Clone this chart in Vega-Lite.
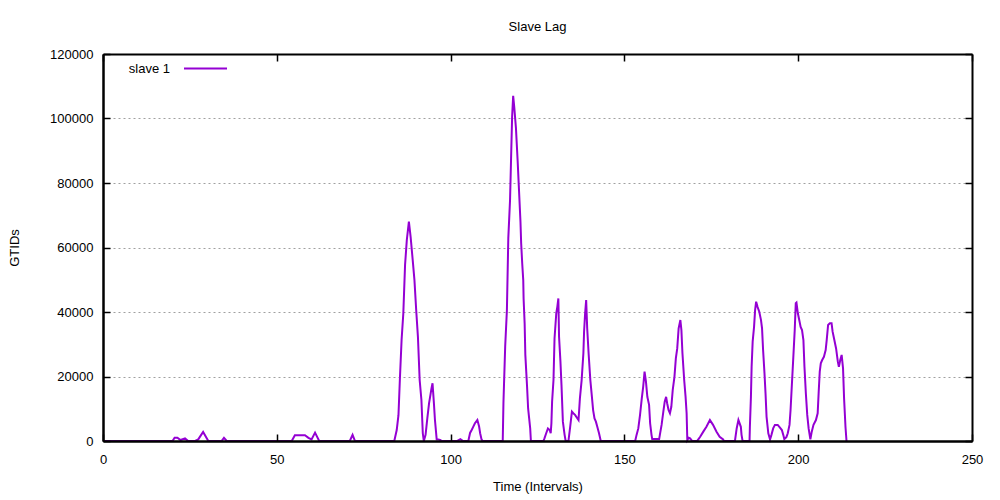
{
  "$schema": "https://vega.github.io/schema/vega-lite/v6.json",
  "width": 869,
  "height": 387,
  "autosize": "none",
  "padding": {"left": 103, "top": 54, "right": 28, "bottom": 59},
  "background": "white",
  "title": {
    "text": "Slave Lag",
    "font": "Liberation Sans",
    "fontSize": 13,
    "fontWeight": "normal",
    "color": "black",
    "offset": 12,
    "anchor": "middle"
  },
  "config": {
    "view": {"stroke": null}
  },
  "data": {
    "values": [
      {"interval": 0, "lag": 0, "series": "slave 1"},
      {"interval": 20, "lag": 0, "series": "slave 1"},
      {"interval": 20.6, "lag": 1000, "series": "slave 1"},
      {"interval": 21.4, "lag": 1000, "series": "slave 1"},
      {"interval": 22.3, "lag": 300, "series": "slave 1"},
      {"interval": 23.6, "lag": 800, "series": "slave 1"},
      {"interval": 24.5, "lag": 0, "series": "slave 1"},
      {"interval": 26.5, "lag": 0, "series": "slave 1"},
      {"interval": 27.4, "lag": 500, "series": "slave 1"},
      {"interval": 28.8, "lag": 2800, "series": "slave 1"},
      {"interval": 30.3, "lag": 0, "series": "slave 1"},
      {"interval": 34.1, "lag": 0, "series": "slave 1"},
      {"interval": 34.8, "lag": 1000, "series": "slave 1"},
      {"interval": 35.6, "lag": 0, "series": "slave 1"},
      {"interval": 54.3, "lag": 0, "series": "slave 1"},
      {"interval": 55.2, "lag": 1800, "series": "slave 1"},
      {"interval": 58.1, "lag": 1800, "series": "slave 1"},
      {"interval": 59.1, "lag": 1000, "series": "slave 1"},
      {"interval": 60, "lag": 500, "series": "slave 1"},
      {"interval": 61, "lag": 2600, "series": "slave 1"},
      {"interval": 62.2, "lag": 0, "series": "slave 1"},
      {"interval": 71, "lag": 0, "series": "slave 1"},
      {"interval": 71.8, "lag": 1900, "series": "slave 1"},
      {"interval": 72.5, "lag": 0, "series": "slave 1"},
      {"interval": 83.8, "lag": 0, "series": "slave 1"},
      {"interval": 84.5, "lag": 3400, "series": "slave 1"},
      {"interval": 85, "lag": 8000, "series": "slave 1"},
      {"interval": 85.4, "lag": 18900, "series": "slave 1"},
      {"interval": 85.9, "lag": 31300, "series": "slave 1"},
      {"interval": 86.4, "lag": 39600, "series": "slave 1"},
      {"interval": 86.9, "lag": 54600, "series": "slave 1"},
      {"interval": 87.4, "lag": 62300, "series": "slave 1"},
      {"interval": 88, "lag": 68000, "series": "slave 1"},
      {"interval": 88.5, "lag": 63300, "series": "slave 1"},
      {"interval": 89.1, "lag": 56100, "series": "slave 1"},
      {"interval": 89.6, "lag": 49900, "series": "slave 1"},
      {"interval": 90.1, "lag": 40600, "series": "slave 1"},
      {"interval": 90.6, "lag": 32300, "series": "slave 1"},
      {"interval": 91.1, "lag": 18900, "series": "slave 1"},
      {"interval": 91.6, "lag": 12800, "series": "slave 1"},
      {"interval": 92, "lag": 2400, "series": "slave 1"},
      {"interval": 92.3, "lag": 0, "series": "slave 1"},
      {"interval": 92.8, "lag": 1900, "series": "slave 1"},
      {"interval": 93.3, "lag": 7000, "series": "slave 1"},
      {"interval": 93.8, "lag": 11700, "series": "slave 1"},
      {"interval": 94.2, "lag": 14300, "series": "slave 1"},
      {"interval": 94.5, "lag": 16300, "series": "slave 1"},
      {"interval": 94.8, "lag": 17900, "series": "slave 1"},
      {"interval": 95.2, "lag": 11700, "series": "slave 1"},
      {"interval": 95.5, "lag": 6500, "series": "slave 1"},
      {"interval": 96, "lag": 500, "series": "slave 1"},
      {"interval": 96.4, "lag": 500, "series": "slave 1"},
      {"interval": 97, "lag": 300, "series": "slave 1"},
      {"interval": 97.5, "lag": 0, "series": "slave 1"},
      {"interval": 101.8, "lag": 0, "series": "slave 1"},
      {"interval": 102.8, "lag": 600, "series": "slave 1"},
      {"interval": 103.6, "lag": 0, "series": "slave 1"},
      {"interval": 105.1, "lag": 0, "series": "slave 1"},
      {"interval": 105.6, "lag": 2500, "series": "slave 1"},
      {"interval": 106.1, "lag": 3500, "series": "slave 1"},
      {"interval": 106.5, "lag": 4400, "series": "slave 1"},
      {"interval": 107, "lag": 5500, "series": "slave 1"},
      {"interval": 107.7, "lag": 6500, "series": "slave 1"},
      {"interval": 108.2, "lag": 4500, "series": "slave 1"},
      {"interval": 108.5, "lag": 2400, "series": "slave 1"},
      {"interval": 108.9, "lag": 500, "series": "slave 1"},
      {"interval": 109.2, "lag": 0, "series": "slave 1"},
      {"interval": 115, "lag": 0, "series": "slave 1"},
      {"interval": 115.2, "lag": 11700, "series": "slave 1"},
      {"interval": 115.7, "lag": 29200, "series": "slave 1"},
      {"interval": 116.2, "lag": 40600, "series": "slave 1"},
      {"interval": 116.6, "lag": 62900, "series": "slave 1"},
      {"interval": 117.1, "lag": 74700, "series": "slave 1"},
      {"interval": 117.4, "lag": 87700, "series": "slave 1"},
      {"interval": 117.7, "lag": 100600, "series": "slave 1"},
      {"interval": 118, "lag": 107000, "series": "slave 1"},
      {"interval": 118.3, "lag": 103700, "series": "slave 1"},
      {"interval": 118.8, "lag": 97000, "series": "slave 1"},
      {"interval": 119.3, "lag": 86600, "series": "slave 1"},
      {"interval": 119.7, "lag": 77300, "series": "slave 1"},
      {"interval": 120.1, "lag": 68000, "series": "slave 1"},
      {"interval": 120.3, "lag": 61300, "series": "slave 1"},
      {"interval": 120.6, "lag": 55100, "series": "slave 1"},
      {"interval": 120.9, "lag": 49900, "series": "slave 1"},
      {"interval": 121, "lag": 44200, "series": "slave 1"},
      {"interval": 121.3, "lag": 36500, "series": "slave 1"},
      {"interval": 121.5, "lag": 26700, "series": "slave 1"},
      {"interval": 122, "lag": 16800, "series": "slave 1"},
      {"interval": 122.3, "lag": 10100, "series": "slave 1"},
      {"interval": 122.6, "lag": 7000, "series": "slave 1"},
      {"interval": 122.9, "lag": 3900, "series": "slave 1"},
      {"interval": 123.1, "lag": 0, "series": "slave 1"},
      {"interval": 126.7, "lag": 0, "series": "slave 1"},
      {"interval": 127, "lag": 800, "series": "slave 1"},
      {"interval": 127.5, "lag": 2400, "series": "slave 1"},
      {"interval": 128, "lag": 3900, "series": "slave 1"},
      {"interval": 128.5, "lag": 3400, "series": "slave 1"},
      {"interval": 128.8, "lag": 2400, "series": "slave 1"},
      {"interval": 129, "lag": 5500, "series": "slave 1"},
      {"interval": 129.2, "lag": 12200, "series": "slave 1"},
      {"interval": 129.6, "lag": 18900, "series": "slave 1"},
      {"interval": 129.9, "lag": 31800, "series": "slave 1"},
      {"interval": 130.4, "lag": 39600, "series": "slave 1"},
      {"interval": 130.7, "lag": 41600, "series": "slave 1"},
      {"interval": 131, "lag": 44200, "series": "slave 1"},
      {"interval": 131.2, "lag": 32300, "series": "slave 1"},
      {"interval": 131.6, "lag": 24600, "series": "slave 1"},
      {"interval": 131.9, "lag": 17400, "series": "slave 1"},
      {"interval": 132.3, "lag": 6000, "series": "slave 1"},
      {"interval": 132.8, "lag": 1900, "series": "slave 1"},
      {"interval": 133.1, "lag": 0, "series": "slave 1"},
      {"interval": 133.9, "lag": 0, "series": "slave 1"},
      {"interval": 134.4, "lag": 4400, "series": "slave 1"},
      {"interval": 134.9, "lag": 9100, "series": "slave 1"},
      {"interval": 135.3, "lag": 8600, "series": "slave 1"},
      {"interval": 135.8, "lag": 8100, "series": "slave 1"},
      {"interval": 136.8, "lag": 6500, "series": "slave 1"},
      {"interval": 137.2, "lag": 13200, "series": "slave 1"},
      {"interval": 137.7, "lag": 18900, "series": "slave 1"},
      {"interval": 138.2, "lag": 27200, "series": "slave 1"},
      {"interval": 138.4, "lag": 33900, "series": "slave 1"},
      {"interval": 138.7, "lag": 39600, "series": "slave 1"},
      {"interval": 139, "lag": 43700, "series": "slave 1"},
      {"interval": 139.3, "lag": 34900, "series": "slave 1"},
      {"interval": 139.7, "lag": 27200, "series": "slave 1"},
      {"interval": 140.2, "lag": 18900, "series": "slave 1"},
      {"interval": 140.6, "lag": 14300, "series": "slave 1"},
      {"interval": 141, "lag": 9600, "series": "slave 1"},
      {"interval": 141.4, "lag": 7000, "series": "slave 1"},
      {"interval": 141.8, "lag": 6000, "series": "slave 1"},
      {"interval": 142.2, "lag": 4400, "series": "slave 1"},
      {"interval": 142.7, "lag": 2400, "series": "slave 1"},
      {"interval": 143.2, "lag": 0, "series": "slave 1"},
      {"interval": 153.1, "lag": 0, "series": "slave 1"},
      {"interval": 153.5, "lag": 1900, "series": "slave 1"},
      {"interval": 154, "lag": 3900, "series": "slave 1"},
      {"interval": 154.5, "lag": 8100, "series": "slave 1"},
      {"interval": 155, "lag": 13200, "series": "slave 1"},
      {"interval": 155.4, "lag": 16800, "series": "slave 1"},
      {"interval": 155.8, "lag": 21500, "series": "slave 1"},
      {"interval": 156.2, "lag": 18400, "series": "slave 1"},
      {"interval": 156.6, "lag": 13700, "series": "slave 1"},
      {"interval": 157.1, "lag": 11200, "series": "slave 1"},
      {"interval": 157.4, "lag": 5500, "series": "slave 1"},
      {"interval": 157.8, "lag": 1900, "series": "slave 1"},
      {"interval": 158, "lag": 600, "series": "slave 1"},
      {"interval": 160, "lag": 600, "series": "slave 1"},
      {"interval": 160.2, "lag": 1900, "series": "slave 1"},
      {"interval": 160.7, "lag": 5000, "series": "slave 1"},
      {"interval": 161.2, "lag": 9100, "series": "slave 1"},
      {"interval": 161.6, "lag": 12200, "series": "slave 1"},
      {"interval": 162, "lag": 13700, "series": "slave 1"},
      {"interval": 162.3, "lag": 11700, "series": "slave 1"},
      {"interval": 162.7, "lag": 9600, "series": "slave 1"},
      {"interval": 163.1, "lag": 8600, "series": "slave 1"},
      {"interval": 163.5, "lag": 10600, "series": "slave 1"},
      {"interval": 163.9, "lag": 15800, "series": "slave 1"},
      {"interval": 164.4, "lag": 19900, "series": "slave 1"},
      {"interval": 164.8, "lag": 25600, "series": "slave 1"},
      {"interval": 165.2, "lag": 28700, "series": "slave 1"},
      {"interval": 165.6, "lag": 34900, "series": "slave 1"},
      {"interval": 166.1, "lag": 37500, "series": "slave 1"},
      {"interval": 166.4, "lag": 34400, "series": "slave 1"},
      {"interval": 166.7, "lag": 27200, "series": "slave 1"},
      {"interval": 167.2, "lag": 18900, "series": "slave 1"},
      {"interval": 167.6, "lag": 13700, "series": "slave 1"},
      {"interval": 167.9, "lag": 8600, "series": "slave 1"},
      {"interval": 168.1, "lag": 300, "series": "slave 1"},
      {"interval": 168.5, "lag": 1000, "series": "slave 1"},
      {"interval": 168.9, "lag": 800, "series": "slave 1"},
      {"interval": 169.4, "lag": 100, "series": "slave 1"},
      {"interval": 169.8, "lag": 0, "series": "slave 1"},
      {"interval": 171, "lag": 100, "series": "slave 1"},
      {"interval": 171.8, "lag": 1300, "series": "slave 1"},
      {"interval": 172.7, "lag": 2900, "series": "slave 1"},
      {"interval": 173.6, "lag": 4400, "series": "slave 1"},
      {"interval": 174.6, "lag": 6500, "series": "slave 1"},
      {"interval": 175.5, "lag": 5000, "series": "slave 1"},
      {"interval": 176.5, "lag": 2900, "series": "slave 1"},
      {"interval": 177.4, "lag": 1300, "series": "slave 1"},
      {"interval": 178.4, "lag": 500, "series": "slave 1"},
      {"interval": 178.6, "lag": 0, "series": "slave 1"},
      {"interval": 181.8, "lag": 0, "series": "slave 1"},
      {"interval": 182.3, "lag": 3900, "series": "slave 1"},
      {"interval": 182.8, "lag": 6500, "series": "slave 1"},
      {"interval": 183.5, "lag": 4400, "series": "slave 1"},
      {"interval": 183.7, "lag": 1900, "series": "slave 1"},
      {"interval": 184, "lag": 0, "series": "slave 1"},
      {"interval": 186, "lag": 0, "series": "slave 1"},
      {"interval": 186.1, "lag": 4400, "series": "slave 1"},
      {"interval": 186.4, "lag": 13700, "series": "slave 1"},
      {"interval": 186.6, "lag": 23000, "series": "slave 1"},
      {"interval": 186.9, "lag": 30800, "series": "slave 1"},
      {"interval": 187.3, "lag": 35400, "series": "slave 1"},
      {"interval": 187.6, "lag": 40600, "series": "slave 1"},
      {"interval": 187.9, "lag": 43200, "series": "slave 1"},
      {"interval": 188.3, "lag": 41600, "series": "slave 1"},
      {"interval": 188.8, "lag": 40100, "series": "slave 1"},
      {"interval": 189.3, "lag": 37500, "series": "slave 1"},
      {"interval": 189.6, "lag": 34900, "series": "slave 1"},
      {"interval": 189.9, "lag": 28200, "series": "slave 1"},
      {"interval": 190.3, "lag": 21000, "series": "slave 1"},
      {"interval": 190.6, "lag": 14800, "series": "slave 1"},
      {"interval": 190.9, "lag": 7500, "series": "slave 1"},
      {"interval": 191.4, "lag": 2400, "series": "slave 1"},
      {"interval": 191.9, "lag": 500, "series": "slave 1"},
      {"interval": 192.3, "lag": 1900, "series": "slave 1"},
      {"interval": 192.8, "lag": 3900, "series": "slave 1"},
      {"interval": 193.3, "lag": 5000, "series": "slave 1"},
      {"interval": 194.1, "lag": 5000, "series": "slave 1"},
      {"interval": 194.7, "lag": 4200, "series": "slave 1"},
      {"interval": 195.3, "lag": 3400, "series": "slave 1"},
      {"interval": 195.7, "lag": 1900, "series": "slave 1"},
      {"interval": 196, "lag": 600, "series": "slave 1"},
      {"interval": 196.6, "lag": 1200, "series": "slave 1"},
      {"interval": 197, "lag": 2400, "series": "slave 1"},
      {"interval": 197.5, "lag": 5000, "series": "slave 1"},
      {"interval": 197.8, "lag": 9600, "series": "slave 1"},
      {"interval": 198.2, "lag": 17900, "series": "slave 1"},
      {"interval": 198.6, "lag": 26100, "series": "slave 1"},
      {"interval": 199, "lag": 34400, "series": "slave 1"},
      {"interval": 199.3, "lag": 42700, "series": "slave 1"},
      {"interval": 199.5, "lag": 42900, "series": "slave 1"},
      {"interval": 199.9, "lag": 39600, "series": "slave 1"},
      {"interval": 200.3, "lag": 37500, "series": "slave 1"},
      {"interval": 200.7, "lag": 35400, "series": "slave 1"},
      {"interval": 201.1, "lag": 34400, "series": "slave 1"},
      {"interval": 201.5, "lag": 31300, "series": "slave 1"},
      {"interval": 201.8, "lag": 23000, "series": "slave 1"},
      {"interval": 202.2, "lag": 14800, "series": "slave 1"},
      {"interval": 202.6, "lag": 8100, "series": "slave 1"},
      {"interval": 203, "lag": 3900, "series": "slave 1"},
      {"interval": 203.5, "lag": 500, "series": "slave 1"},
      {"interval": 203.9, "lag": 2900, "series": "slave 1"},
      {"interval": 204.4, "lag": 5000, "series": "slave 1"},
      {"interval": 205.1, "lag": 6500, "series": "slave 1"},
      {"interval": 205.6, "lag": 8600, "series": "slave 1"},
      {"interval": 205.9, "lag": 15300, "series": "slave 1"},
      {"interval": 206.2, "lag": 21500, "series": "slave 1"},
      {"interval": 206.5, "lag": 24100, "series": "slave 1"},
      {"interval": 206.9, "lag": 25100, "series": "slave 1"},
      {"interval": 207.4, "lag": 26100, "series": "slave 1"},
      {"interval": 207.9, "lag": 28200, "series": "slave 1"},
      {"interval": 208.2, "lag": 31300, "series": "slave 1"},
      {"interval": 208.6, "lag": 36000, "series": "slave 1"},
      {"interval": 209.1, "lag": 36500, "series": "slave 1"},
      {"interval": 209.6, "lag": 36500, "series": "slave 1"},
      {"interval": 209.9, "lag": 33900, "series": "slave 1"},
      {"interval": 210.4, "lag": 31300, "series": "slave 1"},
      {"interval": 210.9, "lag": 28700, "series": "slave 1"},
      {"interval": 211.4, "lag": 24600, "series": "slave 1"},
      {"interval": 211.7, "lag": 23000, "series": "slave 1"},
      {"interval": 212.1, "lag": 25100, "series": "slave 1"},
      {"interval": 212.5, "lag": 26700, "series": "slave 1"},
      {"interval": 212.9, "lag": 22500, "series": "slave 1"},
      {"interval": 213.2, "lag": 13200, "series": "slave 1"},
      {"interval": 213.6, "lag": 4400, "series": "slave 1"},
      {"interval": 213.9, "lag": 0, "series": "slave 1"}
    ]
  },
  "layer": [
    {
      "mark": {"type": "line", "strokeWidth": 2, "interpolate": "linear"},
      "encoding": {
        "x": {
          "field": "interval",
          "type": "quantitative",
          "scale": {"domain": [0, 250], "nice": false},
          "axis": {
            "orient": "bottom",
            "title": "Time (Intervals)",
            "values": [0, 50, 100, 150, 200, 250],
            "labelFont": "Liberation Sans",
            "labelFontSize": 13,
            "labelColor": "black",
            "labelFlush": false,
            "titleFont": "Liberation Sans",
            "titleFontSize": 13,
            "titleFontWeight": "normal",
            "titleColor": "black",
            "domainColor": "black",
            "domainWidth": 2,
            "ticks": false,
            "tickSize": 0,
            "grid": false,
            "labelPadding": 12,
            "titlePadding": 14,
            "zindex": 1
          }
        },
        "y": {
          "field": "lag",
          "type": "quantitative",
          "scale": {"domain": [0, 120000], "nice": false},
          "axis": {
            "orient": "left",
            "title": "GTIDs",
            "values": [0, 20000, 40000, 60000, 80000, 100000, 120000],
            "format": "d",
            "labelFont": "Liberation Sans",
            "labelFontSize": 13,
            "labelColor": "black",
            "titleFont": "Liberation Sans",
            "titleFontSize": 13,
            "titleFontWeight": "normal",
            "titleColor": "black",
            "domainColor": "black",
            "domainWidth": 2,
            "ticks": false,
            "tickSize": 0,
            "grid": true,
            "gridColor": "#a0a0a0",
            "gridDash": [2, 3],
            "gridWidth": 1,
            "labelPadding": 10,
            "titlePadding": 28,
            "zindex": 0
          }
        },
        "color": {
          "field": "series",
          "type": "nominal",
          "scale": {"range": ["#9400d3"]},
          "legend": {
            "title": null,
            "orient": "none",
            "legendX": 80,
            "legendY": -8,
            "symbolType": "stroke",
            "symbolSize": 1849,
            "symbolStrokeWidth": 2,
            "labelFont": "Liberation Sans",
            "labelFontSize": 13,
            "labelColor": "black",
            "labelAlign": "right",
            "labelOffset": -58
          }
        }
      }
    },
    {
      "mark": {"type": "line", "strokeOpacity": 0},
      "encoding": {
        "x": {
          "field": "interval",
          "type": "quantitative",
          "axis": {
            "orient": "top",
            "offset": -387,
            "title": null,
            "labels": false,
            "grid": false,
            "domainColor": "black",
            "domainWidth": 2,
            "tickSize": 7,
            "tickWidth": 1.5,
            "tickColor": "black",
            "values": [0, 50, 100, 150, 200, 250],
            "zindex": 1
          }
        },
        "y": {
          "field": "lag",
          "type": "quantitative",
          "axis": {
            "orient": "right",
            "offset": -869,
            "title": null,
            "labels": false,
            "grid": false,
            "domainColor": "black",
            "domainWidth": 2,
            "tickSize": 7,
            "tickWidth": 1.5,
            "tickColor": "black",
            "values": [0, 20000, 40000, 60000, 80000, 100000, 120000],
            "zindex": 1
          }
        }
      }
    },
    {
      "mark": {"type": "line", "strokeOpacity": 0},
      "encoding": {
        "x": {
          "field": "interval",
          "type": "quantitative",
          "axis": {
            "orient": "bottom",
            "offset": -387,
            "title": null,
            "labels": false,
            "grid": false,
            "domainColor": "black",
            "domainWidth": 2,
            "tickSize": 7,
            "tickWidth": 1.5,
            "tickColor": "black",
            "values": [0, 50, 100, 150, 200, 250],
            "zindex": 1
          }
        },
        "y": {
          "field": "lag",
          "type": "quantitative",
          "axis": {
            "orient": "left",
            "offset": -869,
            "title": null,
            "labels": false,
            "grid": false,
            "domainColor": "black",
            "domainWidth": 2,
            "tickSize": 7,
            "tickWidth": 1.5,
            "tickColor": "black",
            "values": [0, 20000, 40000, 60000, 80000, 100000, 120000],
            "zindex": 1
          }
        }
      }
    }
  ],
  "resolve": {"axis": {"x": "independent", "y": "independent"}}
}
